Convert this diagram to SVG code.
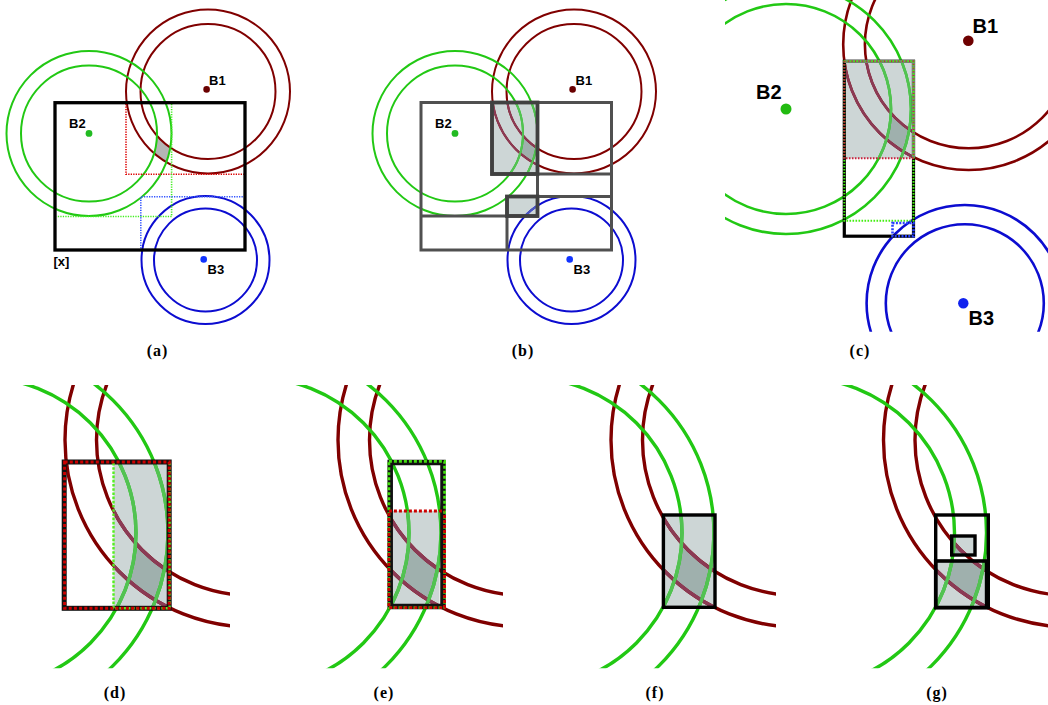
<svg xmlns="http://www.w3.org/2000/svg" xmlns:xlink="http://www.w3.org/1999/xlink" width="1048" height="705" viewBox="0 0 1048 705">
<style>
.r{fill:none;stroke:#800000}
.rm{fill:none;stroke:#8b3a55}
.g{fill:none;stroke:#22c814}
.gm{fill:none;stroke:#52c252}
.b{fill:none;stroke:#0c0cd0}
.bm{fill:none;stroke:#4a55c0}
.s2{stroke-width:2}
.s26{stroke-width:2.6}
.s34{stroke-width:3.4}
.lg{fill:#cdd6d6}
.dg{fill:#9fb0ad}
.lbl{font-family:"Liberation Sans",Arial,sans-serif;font-weight:bold;font-size:13px;fill:#000}
.lbl2{font-family:"Liberation Sans",Arial,sans-serif;font-weight:bold;font-size:20px;fill:#000}
.cap{font-family:"Liberation Serif","Times New Roman",serif;font-weight:bold;font-size:16px;letter-spacing:1px;text-anchor:middle;fill:#000}
.ln{fill:none;stroke:#505050;stroke-width:3}
.lnd{fill:none;stroke:#404040;stroke-width:3.8}
.bk{fill:none;stroke:#000}
.dr{fill:none;stroke:#dd0000;stroke-width:1.6;stroke-dasharray:1.3 1.2}
.dgn{fill:none;stroke:#44ee22;stroke-width:1.6;stroke-dasharray:1.3 1.2}
.dbl{fill:none;stroke:#3355ff;stroke-width:1.6;stroke-dasharray:1.3 1.2}
</style>
<defs>
  <g id="a-red"><circle cx="208" cy="91.5" r="82"/><circle cx="208" cy="91.5" r="67.5"/></g>
  <g id="a-grn"><circle cx="89" cy="133.5" r="82.5"/><circle cx="89" cy="133.5" r="68"/></g>
  <g id="a-blu"><circle cx="205.5" cy="260" r="64"/><circle cx="205.5" cy="260" r="51.5"/></g>
  <path id="a-annR" d="M126,91.5 a82,82 0 1,0 164,0 a82,82 0 1,0 -164,0 Z M140.5,91.5 a67.5,67.5 0 1,0 135,0 a67.5,67.5 0 1,0 -135,0 Z"/>
  <clipPath id="a-annG"><path clip-rule="evenodd" d="M6.5,133.5 a82.5,82.5 0 1,0 165,0 a82.5,82.5 0 1,0 -165,0 Z M21,133.5 a68,68 0 1,0 136,0 a68,68 0 1,0 -136,0 Z"/></clipPath>
  <clipPath id="a-X"><rect x="55" y="102.7" width="190" height="147.3"/></clipPath>
  <clipPath id="b-RG"><rect x="126" y="102.5" width="45.5" height="71.5"/></clipPath>
  <clipPath id="b-gray"><rect x="126" y="102.5" width="45.5" height="71.5"/><rect x="141" y="196.5" width="30.5" height="19.5"/></clipPath>
  <g id="c-red"><circle cx="968.7" cy="44.5" r="125.5"/><circle cx="968.7" cy="44.5" r="103.8"/></g>
  <g id="c-grn"><circle cx="786" cy="109" r="125"/><circle cx="786" cy="109" r="105"/></g>
  <g id="c-blu"><circle cx="964.8" cy="303.2" r="98.2"/><circle cx="964.8" cy="303.2" r="79"/></g>
  <path id="c-annR" d="M843.2,44.5 a125.5,125.5 0 1,0 251,0 a125.5,125.5 0 1,0 -251,0 Z M864.9,44.5 a103.8,103.8 0 1,0 207.6,0 a103.8,103.8 0 1,0 -207.6,0 Z"/>
  <clipPath id="c-annG"><path clip-rule="evenodd" d="M661,109 a125,125 0 1,0 250,0 a125,125 0 1,0 -250,0 Z M681,109 a105,105 0 1,0 210,0 a105,105 0 1,0 -210,0 Z"/></clipPath>
  <clipPath id="c-win"><rect x="725" y="0" width="323" height="331.7"/></clipPath>
  <clipPath id="c-box"><rect x="843" y="60" width="72" height="98.3"/></clipPath>
  <g id="d-red"><circle cx="252" cy="440" r="187"/><circle cx="252" cy="440" r="155.5"/></g>
  <g id="d-grn"><circle cx="-19.5" cy="533" r="187.5"/><circle cx="-19.5" cy="533" r="155.5"/></g>
  <path id="d-annR" d="M65,440 a187,187 0 1,0 374,0 a187,187 0 1,0 -374,0 Z M96.5,440 a155.5,155.5 0 1,0 311,0 a155.5,155.5 0 1,0 -311,0 Z"/>
  <clipPath id="d-annG"><path clip-rule="evenodd" d="M-207,533 a187.5,187.5 0 1,0 375,0 a187.5,187.5 0 1,0 -375,0 Z M-175,533 a155.5,155.5 0 1,0 311,0 a155.5,155.5 0 1,0 -311,0 Z"/></clipPath>
  <clipPath id="d-win"><rect x="0" y="385" width="230" height="283.3"/></clipPath>
  <clipPath id="d-gray"><rect x="113.5" y="462" width="56" height="146.3"/></clipPath>
  <clipPath id="e-gray"><rect x="120" y="511" width="46.5" height="93.5"/></clipPath>
  <clipPath id="f-gray"><rect x="117.4" y="515" width="51.6" height="92.3"/></clipPath>
  <clipPath id="g-gray"><rect x="133.2" y="536" width="23.3" height="19"/><rect x="117.2" y="561" width="50.9" height="46.6"/></clipPath>
</defs>

<g id="panel-a">
  <g clip-path="url(#a-X)"><g clip-path="url(#a-annG)"><use xlink:href="#a-annR" fill="#b5b5b5" fill-rule="evenodd"/></g></g>
  <use xlink:href="#a-red" class="r s2"/>
  <use xlink:href="#a-grn" class="g s2"/>
  <use xlink:href="#a-blu" class="b s2"/>
  <path class="dr" d="M126,104 V174.3 H245"/>
  <path class="dgn" d="M171.6,104 V216.5 H56.5"/>
  <path class="dbl" d="M140.8,248.5 V196.7 H245"/>
  <rect class="bk" x="55" y="102.7" width="190" height="147.3" stroke-width="3.3"/>
  <circle cx="206.6" cy="89.4" r="3.3" fill="#6a0000"/>
  <circle cx="89" cy="133.4" r="3.4" fill="#22bb22"/>
  <circle cx="203.7" cy="259.4" r="3.3" fill="#1133ff"/>
  <text class="lbl" x="209" y="84.5">B1</text>
  <text class="lbl" x="69" y="127.5">B2</text>
  <text class="lbl" x="207.5" y="274">B3</text>
  <text class="lbl" x="53.5" y="265.5">[x]</text>
</g>

<g id="panel-b" transform="translate(366,0)">
  <rect class="lg" x="126" y="102.5" width="45.5" height="71.5"/>
  <rect class="lg" x="141" y="196.5" width="30.5" height="19.5"/>
  <g clip-path="url(#b-RG)"><g clip-path="url(#a-annG)"><use xlink:href="#a-annR" class="dg" fill-rule="evenodd"/></g></g>
  <use xlink:href="#a-red" class="r s2"/>
  <use xlink:href="#a-grn" class="g s2"/>
  <use xlink:href="#a-blu" class="b s2"/>
  <g clip-path="url(#b-gray)">
    <use xlink:href="#a-red" class="rm s2"/>
    <use xlink:href="#a-grn" class="gm s2"/>
    <use xlink:href="#a-blu" class="bm s2"/>
  </g>
  <rect class="ln" x="55" y="102.5" width="190.5" height="147.5"/>
  <path class="ln" d="M126,102.5 V174 H245.5"/>
  <path class="ln" d="M171.5,102.5 V216 H55"/>
  <path class="ln" d="M141,250 V196.5 H245.5"/>
  <rect class="lnd" x="126" y="102.5" width="45.5" height="71.5"/>
  <rect class="lnd" x="141" y="196.5" width="30.5" height="19.5"/>
  <circle cx="206.6" cy="89.4" r="3.3" fill="#6a0000"/>
  <circle cx="89" cy="133.4" r="3.4" fill="#22bb22"/>
  <circle cx="203.7" cy="259.4" r="3.3" fill="#1133ff"/>
  <text class="lbl" x="209.5" y="84.5">B1</text>
  <text class="lbl" x="69" y="127.5">B2</text>
  <text class="lbl" x="207.5" y="274">B3</text>
</g>

<g id="panel-c">
  <rect class="lg" x="843" y="60" width="72" height="98.3"/>
  <g clip-path="url(#c-box)"><g clip-path="url(#c-annG)"><use xlink:href="#c-annR" class="dg" fill-rule="evenodd"/></g></g>
  <g clip-path="url(#c-win)">
    <use xlink:href="#c-red" class="r s26"/>
    <use xlink:href="#c-grn" class="g s26"/>
    <use xlink:href="#c-blu" class="b s26"/>
  </g>
  <g clip-path="url(#c-box)">
    <use xlink:href="#c-red" class="rm s26"/>
    <use xlink:href="#c-grn" class="gm s26"/>
  </g>
  <rect class="bk" x="844.3" y="61.3" width="69.2" height="174.9" stroke-width="3.2"/>
  <path d="M844.3,61.3 H913.5 V158" fill="none" stroke="#7a7a7a" stroke-width="3.2"/>
  <rect x="844.3" y="61.3" width="69.2" height="159.4" fill="none" stroke="#44ee11" stroke-width="2" stroke-dasharray="1.6 1.4"/>
  <path d="M913.5,158.3 H844.3 V61.3" fill="none" stroke="#c8203c" stroke-width="2" stroke-dasharray="1.6 1.4"/>
  <path d="M844.3,61.3 H913.5 V158.3" fill="none" stroke="#c8203c" stroke-width="1.5" stroke-dasharray="1 2.6"/>
  <rect x="892.5" y="223" width="21" height="13.2" fill="none" stroke="#2840ff" stroke-width="2.6" stroke-dasharray="2 1.4"/>
  <circle cx="968.3" cy="40.7" r="5.3" fill="#6e0000"/>
  <circle cx="786" cy="109" r="5.5" fill="#22bb11"/>
  <circle cx="963.3" cy="303.3" r="5.2" fill="#1022ee"/>
  <text class="lbl2" x="972.5" y="33.3">B1</text>
  <text class="lbl2" x="756" y="99.3">B2</text>
  <text class="lbl2" x="968.5" y="325">B3</text>
</g>

<g id="panel-d">
  <rect class="lg" x="113.5" y="462" width="56" height="146.3"/>
  <g clip-path="url(#d-gray)"><g clip-path="url(#d-annG)"><use xlink:href="#d-annR" class="dg" fill-rule="evenodd"/></g></g>
  <g clip-path="url(#d-win)">
    <use xlink:href="#d-red" class="r s34"/>
    <use xlink:href="#d-grn" class="g s34"/>
  </g>
  <g clip-path="url(#d-gray)">
    <use xlink:href="#d-red" class="rm s34"/>
    <use xlink:href="#d-grn" class="gm s34"/>
  </g>
  <rect x="64.2" y="462" width="105" height="146.3" fill="none" stroke="#111" stroke-width="5"/>
  <path d="M113.5,463 V608.3 H169.6 V462" fill="none" stroke="#55ee22" stroke-width="2.4" stroke-dasharray="2.6 1.6"/>
  <rect x="64.6" y="462" width="104.6" height="146.3" fill="none" stroke="#cc0000" stroke-width="3" stroke-dasharray="3 2.2"/>
</g>

<g id="panel-e" transform="translate(273,0)">
  <rect class="lg" x="120" y="511" width="46.5" height="93.5"/>
  <g clip-path="url(#e-gray)"><g clip-path="url(#d-annG)"><use xlink:href="#d-annR" class="dg" fill-rule="evenodd"/></g></g>
  <g clip-path="url(#d-win)">
    <use xlink:href="#d-red" class="r s34"/>
    <use xlink:href="#d-grn" class="g s34"/>
  </g>
  <g clip-path="url(#e-gray)">
    <use xlink:href="#d-red" class="rm s34"/>
    <use xlink:href="#d-grn" class="gm s34"/>
  </g>
  <rect x="117.2" y="462.5" width="52.8" height="144" fill="none" stroke="#111" stroke-width="5.5"/>
  <rect x="115.9" y="461.4" width="55.7" height="146.2" fill="none" stroke="#44dd11" stroke-width="2.8" stroke-dasharray="3 2"/>
  <path d="M115.9,511 H171.6" fill="none" stroke="#cc0000" stroke-width="2.8" stroke-dasharray="3 2"/>
  <path d="M115.9,513 V607.6 H171.6 V513" fill="none" stroke="#cc0000" stroke-width="2.8" stroke-dasharray="3 2"/>
</g>

<g id="panel-f" transform="translate(546,0)">
  <rect class="lg" x="117.4" y="515" width="51.6" height="92.3"/>
  <g clip-path="url(#f-gray)"><g clip-path="url(#d-annG)"><use xlink:href="#d-annR" class="dg" fill-rule="evenodd"/></g></g>
  <g clip-path="url(#d-win)">
    <use xlink:href="#d-red" class="r s34"/>
    <use xlink:href="#d-grn" class="g s34"/>
  </g>
  <g clip-path="url(#f-gray)">
    <use xlink:href="#d-red" class="rm s34"/>
    <use xlink:href="#d-grn" class="gm s34"/>
  </g>
  <rect class="bk" x="117.4" y="515" width="51.6" height="92.3" stroke-width="3.4"/>
</g>

<g id="panel-g" transform="translate(818.5,0)">
  <rect class="lg" x="133.2" y="536" width="23.3" height="19"/>
  <rect class="lg" x="117.2" y="561" width="50.9" height="46.6"/>
  <g clip-path="url(#g-gray)"><g clip-path="url(#d-annG)"><use xlink:href="#d-annR" class="dg" fill-rule="evenodd"/></g></g>
  <g clip-path="url(#d-win)">
    <use xlink:href="#d-red" class="r s34"/>
    <use xlink:href="#d-grn" class="g s34"/>
  </g>
  <g clip-path="url(#g-gray)">
    <use xlink:href="#d-red" class="rm s34"/>
    <use xlink:href="#d-grn" class="gm s34"/>
  </g>
  <rect class="bk" x="117.2" y="515" width="52.6" height="92.6" stroke-width="3.4"/>
  <rect class="bk" x="133.2" y="536" width="23.3" height="19" stroke-width="3.4"/>
  <rect class="bk" x="117.2" y="561" width="50.9" height="46.6" stroke-width="3.6"/>
</g>

<g id="captions">
  <text class="cap" x="157.5" y="356">(a)</text>
  <text class="cap" x="523" y="356">(b)</text>
  <text class="cap" x="860" y="356">(c)</text>
  <text class="cap" x="115" y="698">(d)</text>
  <text class="cap" x="384" y="698">(e)</text>
  <text class="cap" x="655" y="698">(f)</text>
  <text class="cap" x="937" y="698">(g)</text>
</g>
</svg>
